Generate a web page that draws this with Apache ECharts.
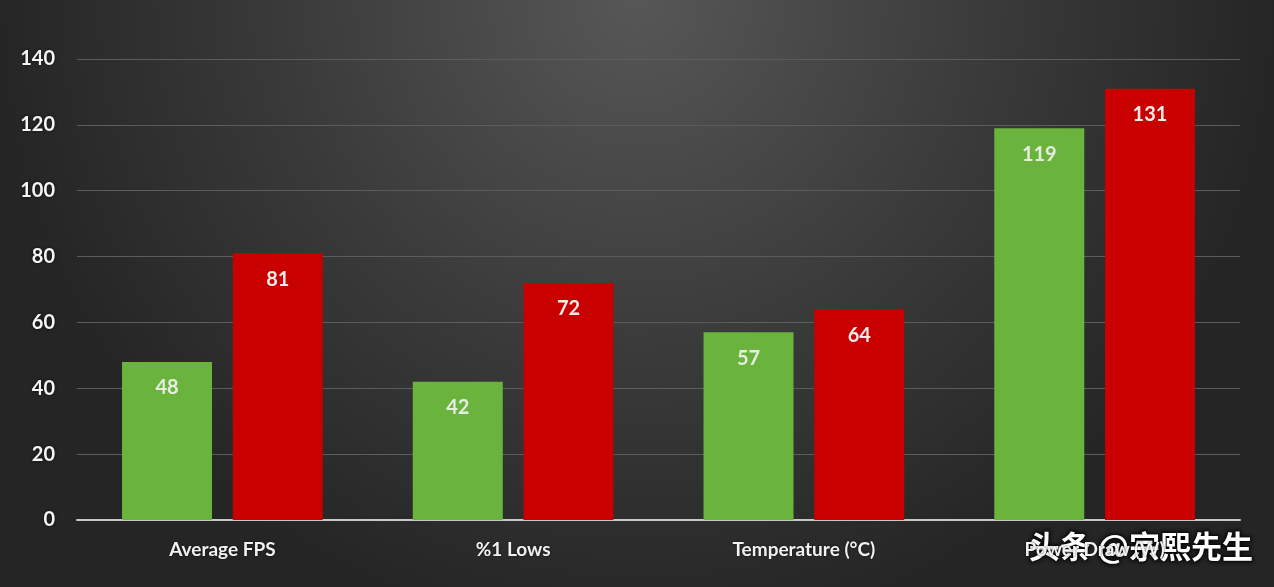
<!DOCTYPE html>
<html>
<head>
<meta charset="utf-8">
<script src="https://cdn.jsdelivr.net/npm/echarts@6/dist/echarts.min.js"></script>
<style>
html,body{margin:0;padding:0;background:#2a2a2a;}
#c{width:1274px;height:587px;}
</style>
</head>
<body>
<div id="c"></div>
<script>
const categories = ['Average FPS', '%1 Lows', 'Temperature (°C)', 'Power Draw (W)'];
const greenValues = [48, 42, 57, 119];
const redValues = [81, 72, 64, 131];
const yTicks = { min: 0, max: 140, interval: 20 };
const watermark = '头条 @宗熙先生';

const chart = echarts.init(document.getElementById('c'));
const labelStyle = (color) => ({
  show: true,
  position: 'insideTop',
  distance: 16,
  color: color,
  fontFamily: 'Lato',
  fontWeight: 'bold',
  fontSize: 20
});
chart.setOption({
  animation: false,
  backgroundColor: {
    type: 'radial', x: 0.5, y: 0, r: 1.1,
    colorStops: [
      { offset: 0, color: '#575757' },
      { offset: 0.55, color: '#3a3a3a' },
      { offset: 1, color: '#252525' }
    ]
  },
  grid: { left: 77, right: 34, top: 59, bottom: 67 },
  xAxis: {
    type: 'category',
    data: categories,
    axisTick: { show: false },
    axisLine: { lineStyle: { color: '#c8c8c8', width: 2 } },
    axisLabel: {
      color: '#f2f2f2', fontFamily: 'Lato', fontWeight: 'bold', fontSize: 19,
      margin: 20, textShadowColor: 'rgba(0,0,0,0.7)', textShadowBlur: 2
    }
  },
  yAxis: {
    type: 'value',
    min: yTicks.min, max: yTicks.max, interval: yTicks.interval,
    axisLine: { show: false },
    axisTick: { show: false },
    splitLine: { lineStyle: { color: '#5c5c5c', width: 1 } },
    axisLabel: {
      color: '#f5f5f5', fontFamily: 'Lato', fontWeight: 'bold', fontSize: 20,
      margin: 22, textShadowColor: 'rgba(0,0,0,0.8)', textShadowBlur: 3
    }
  },
  series: [
    {
      type: 'bar', data: greenValues, barWidth: 90, barGap: '23%',
      itemStyle: { color: '#6ab43e' },
      label: labelStyle('#e6ece0')
    },
    {
      type: 'bar', data: redValues, barWidth: 90,
      itemStyle: { color: '#c80000' },
      label: labelStyle('#f4eaea')
    }
  ],
  graphic: [{
    type: 'text', right: 20, top: 530,
    style: {
      text: watermark, fill: '#ffffff', fontSize: 31, fontWeight: 'bold',
      fontFamily: 'Noto Sans CJK SC',
      stroke: 'rgba(20,20,20,0.85)', lineWidth: 2,
      textShadowColor: 'rgba(0,0,0,0.9)', textShadowBlur: 4
    }
  }]
});
</script>
</body>
</html>
